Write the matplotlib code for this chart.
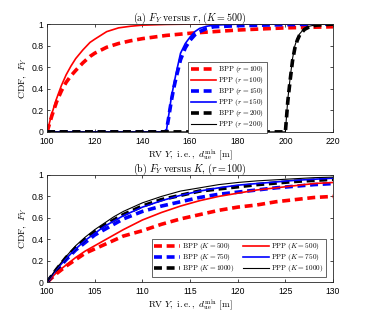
import numpy as np
import matplotlib
matplotlib.use('Agg')
import matplotlib.pyplot as plt

plt.rcParams['mathtext.fontset'] = 'cm'
plt.rcParams['font.family'] = ['Liberation Sans', 'DejaVu Sans']

# (a) F_Y versus r, K = 500
r100_x = [100, 102, 104, 106, 108, 110, 112, 115, 118, 120, 125, 130, 135, 140, 150, 160, 170, 180, 190, 200, 210, 220]
bpp_r100 = [0, 0.15, 0.28, 0.38, 0.46, 0.52, 0.57, 0.64, 0.70, 0.73, 0.785, 0.82, 0.845, 0.865, 0.895, 0.915, 0.93, 0.945, 0.955, 0.965, 0.97, 0.975]
ppp_r100 = [0, 0.17, 0.31, 0.43, 0.53, 0.61, 0.68, 0.76, 0.83, 0.86, 0.93, 0.965, 0.98, 0.99, 0.997, 1, 1, 1, 1, 1, 1, 1]

r150_x = [100, 150, 151, 152, 153, 154, 155, 156, 158, 160, 162, 164, 167, 170, 180, 200, 220]
bpp_r150 = [0, 0, 0.13, 0.27, 0.39, 0.49, 0.58, 0.67, 0.78, 0.85, 0.9, 0.93, 0.96, 0.975, 0.985, 0.995, 1]
ppp_r150 = [0, 0, 0.15, 0.3, 0.42, 0.53, 0.63, 0.73, 0.82, 0.88, 0.93, 0.96, 0.98, 0.99, 1, 1, 1]

r200_x = [100, 200, 201, 202, 203, 204, 205, 206, 208, 210, 213, 220]
bpp_r200 = [0, 0, 0.28, 0.48, 0.66, 0.78, 0.85, 0.9, 0.95, 0.975, 0.99, 1]
ppp_r200 = [0, 0, 0.3, 0.5, 0.68, 0.8, 0.87, 0.91, 0.96, 0.98, 0.995, 1]

# (b) F_Y versus K, r = 100
k_x = [100, 101, 102, 103, 104, 105, 106, 107, 108, 110, 112, 114, 116, 118, 120, 122, 124, 126, 128, 130]
bpp_k500 = [0, 0.08, 0.15, 0.21, 0.27, 0.31, 0.35, 0.39, 0.43, 0.48, 0.54, 0.59, 0.63, 0.67, 0.70, 0.72, 0.75, 0.77, 0.79, 0.80]
ppp_k500 = [0, 0.09, 0.16, 0.23, 0.29, 0.34, 0.39, 0.44, 0.49, 0.58, 0.65, 0.71, 0.76, 0.80, 0.83, 0.86, 0.88, 0.90, 0.92, 0.93]
bpp_k750 = [0, 0.11, 0.21, 0.30, 0.37, 0.44, 0.49, 0.54, 0.59, 0.66, 0.71, 0.75, 0.79, 0.82, 0.84, 0.86, 0.88, 0.895, 0.91, 0.92]
ppp_k750 = [0, 0.12, 0.22, 0.31, 0.39, 0.455, 0.52, 0.57, 0.62, 0.70, 0.76, 0.81, 0.85, 0.88, 0.905, 0.92, 0.935, 0.95, 0.96, 0.97]
bpp_k1000 = [0, 0.12, 0.23, 0.32, 0.40, 0.47, 0.53, 0.58, 0.63, 0.71, 0.77, 0.81, 0.85, 0.87, 0.89, 0.91, 0.925, 0.94, 0.95, 0.96]
ppp_k1000 = [0, 0.13, 0.24, 0.34, 0.42, 0.49, 0.55, 0.61, 0.66, 0.74, 0.80, 0.85, 0.88, 0.91, 0.93, 0.945, 0.955, 0.965, 0.975, 0.98]

xlab = r'$\mathrm{RV}\ Y\mathrm{,\ i.e.,}\ d_{\mathrm{ue}}^{\mathrm{min}}\ \mathrm{[m]}$'
ylab = r'$\mathrm{CDF,}\ F_Y$'
dash = dict(linestyle=(0, (2.2, 1.3)), lw=2.6)
solid = dict(linestyle='-', lw=1.2)


def lab(kind, var, val):
    return r'$\mathrm{%s}\ (%s=%d)$' % (kind, var, val)


def style(ax):
    ax.tick_params(direction='in', top=True, right=True, labelsize=6.2,
                   length=2.5, width=0.5, pad=2.5)
    ax.tick_params(axis='x', pad=3.5)
    for s in ax.spines.values():
        s.set_linewidth(0.6)
        s.set_color('#262626')
    ax.set_xlabel(xlab, fontsize=6.7, labelpad=1)
    ax.set_ylabel(ylab, fontsize=7, labelpad=2)


def legend(ax, **kw):
    leg = ax.legend(fontsize=5.2, handlelength=3.5, handletextpad=0.35,
                    labelspacing=0.0, borderpad=0.35, borderaxespad=0,
                    fancybox=False, framealpha=1, edgecolor='#262626', **kw)
    leg.get_frame().set_linewidth(0.5)
    return leg


fig = plt.figure(figsize=(3.68, 3.17), dpi=100)

ax1 = fig.add_axes([0.128, 0.584, 0.777, 0.340])
ax1.plot(r100_x, bpp_r100, color='red', label=lab('BPP', 'r', 100), **dash)
ax1.plot(r100_x, ppp_r100, color='red', label=lab('PPP', 'r', 100), **solid)
ax1.plot(r150_x, bpp_r150, color='blue', label=lab('BPP', 'r', 150), **dash)
ax1.plot(r150_x, ppp_r150, color='blue', label=lab('PPP', 'r', 150), **solid)
ax1.plot(r200_x, bpp_r200, color='black', label=lab('BPP', 'r', 200), **dash)
ax1.plot(r200_x, ppp_r200, color='black', label=lab('PPP', 'r', 200), lw=0.8)
ax1.set_xlim(100, 220)
ax1.set_ylim(0, 1)
ax1.set_xticks(range(100, 221, 20))
ax1.set_yticks([0, 0.2, 0.4, 0.6, 0.8, 1])
ax1.set_yticklabels(['0', '0.2', '0.4', '0.6', '0.8', '1'])
style(ax1)
ax1.set_title(r'$\mathrm{(a)}\ F_Y\ \mathrm{versus}\ r\mathrm{,}\ (K=500)$', fontsize=7.2, pad=2)
legend(ax1, loc='upper left', bbox_to_anchor=(0.493, 0.65))

ax2 = fig.add_axes([0.128, 0.110, 0.777, 0.338])
ax2.plot(k_x, bpp_k500, color='red', label=lab('BPP', 'K', 500), **dash)
ax2.plot(k_x, bpp_k750, color='blue', label=lab('BPP', 'K', 750), **dash)
ax2.plot(k_x, bpp_k1000, color='black', label=lab('BPP', 'K', 1000), **dash)
ax2.plot(k_x, ppp_k500, color='red', label=lab('PPP', 'K', 500), **solid)
ax2.plot(k_x, ppp_k750, color='blue', label=lab('PPP', 'K', 750), **solid)
ax2.plot(k_x, ppp_k1000, color='black', label=lab('PPP', 'K', 1000), lw=0.8)
ax2.set_xlim(100, 130)
ax2.set_ylim(0, 1)
ax2.set_xticks(range(100, 131, 5))
ax2.set_yticks([0, 0.2, 0.4, 0.6, 0.8, 1])
ax2.set_yticklabels(['0', '0.2', '0.4', '0.6', '0.8', '1'])
style(ax2)
ax2.set_title(r'$\mathrm{(b)}\ F_Y\ \mathrm{versus}\ K\mathrm{,}\ (r=100)$', fontsize=7.2, pad=2)
legend(ax2, loc='lower right', bbox_to_anchor=(0.976, 0.05), ncol=2, columnspacing=1.2)

fig.savefig('out.png', dpi=100)
